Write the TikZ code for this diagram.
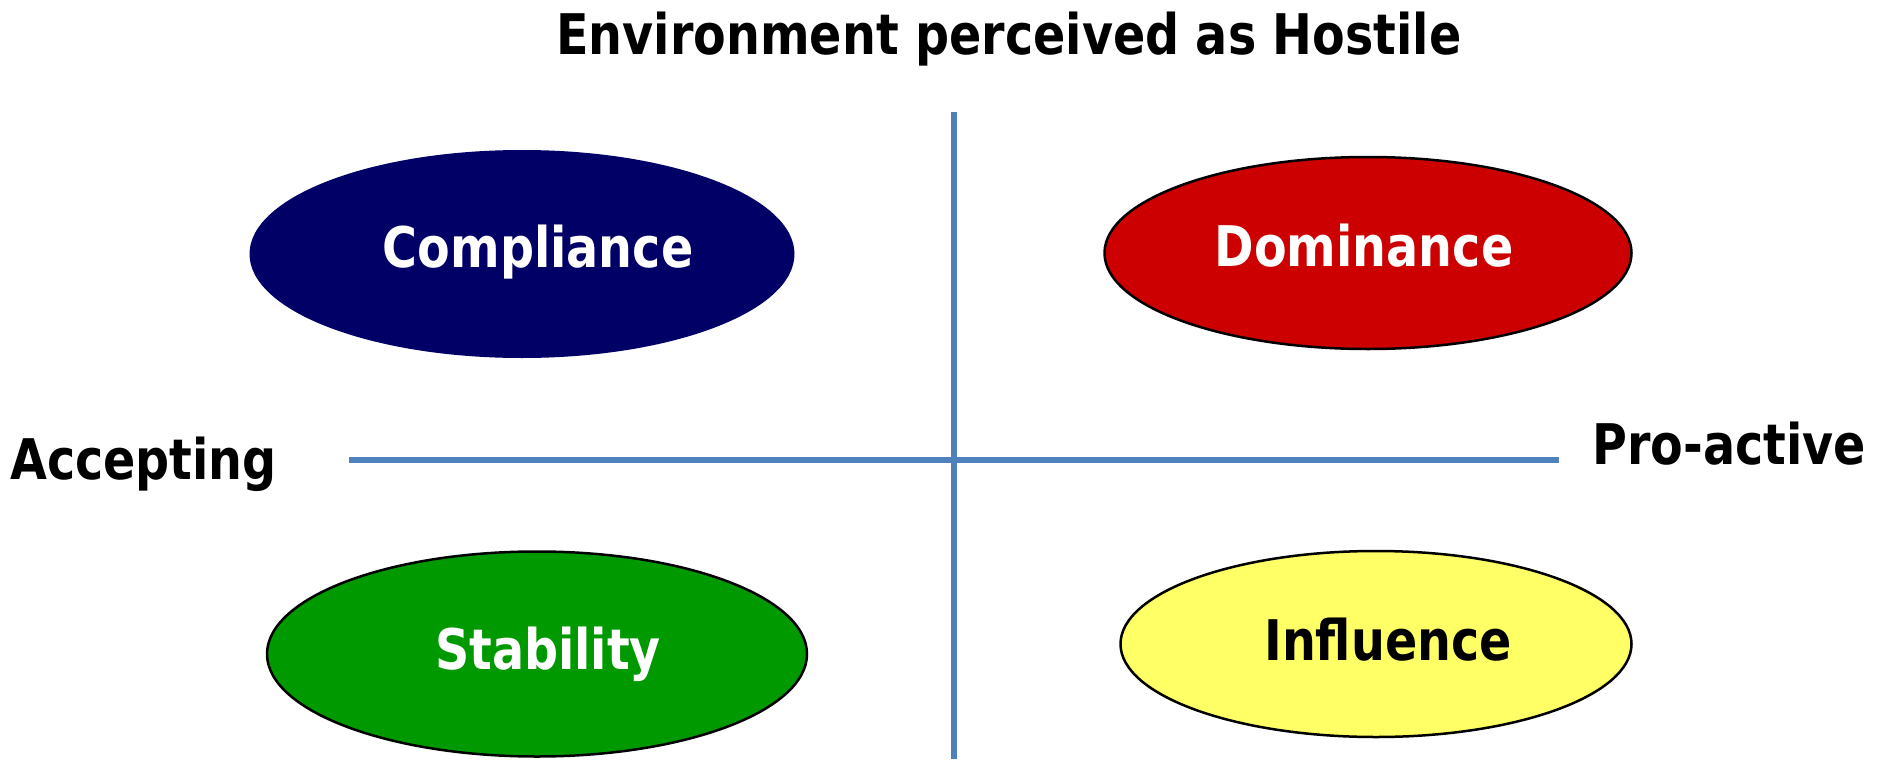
\documentclass[tikz,border=0pt]{standalone}
\usepackage{fontspec}
\usepackage{graphicx}
\setmainfont{DejaVu Sans}
\usetikzlibrary{shapes.geometric}

\definecolor{axisblue}{HTML}{4F81BD}
\definecolor{navy}{HTML}{000066}
\definecolor{darkred}{HTML}{CC0000}
\definecolor{leafgreen}{HTML}{009900}
\definecolor{paleyellow}{HTML}{FFFF66}

\newcommand{\bigword}[1]{\scalebox{0.85}[1]{\fontsize{56}{56}\selectfont\bfseries #1}}

\begin{document}
\begin{tikzpicture}[x=1pt,y=-1pt,
    blob/.style={ellipse, inner sep=0pt, line width=2.5pt},
    word/.style={anchor=base, inner sep=0pt},
    axis/.style={axisblue, line width=6pt}]
    \useasboundingbox (0,0) rectangle (1888,760);

    \coordinate (top) at (954,112);
    \coordinate (bottom) at (954,759);
    \coordinate (left) at (349,460);
    \coordinate (right) at (1559,460);
    \draw [axis] (top) -- (bottom);
    \draw [axis] (left) -- (right);

    \node [blob, fill=navy, minimum width=545, minimum height=208] (compliance) at (522,254) {};
    \node [blob, draw=black, fill=darkred, minimum width=527, minimum height=192] (dominance) at (1368,253) {};
    \node [blob, draw=black, fill=leafgreen, minimum width=540, minimum height=205] (stability) at (537,654) {};
    \node [blob, draw=black, fill=paleyellow, minimum width=511, minimum height=186] (influence) at (1376,644) {};

    \node [word, white] (complianceText) at (538,267) {\bigword{Compliance}};
    \node [word, white] (dominanceText) at (1364,266) {\bigword{Dominance}};
    \node [word, white] (stabilityText) at (548,669) {\bigword{Stability}};
    \node [word] (influenceText) at (1388,660) {\bigword{Influence}};

    \node [word] (title) at (1009,55) {\bigword{Environment perceived as Hostile}};
    \node [word] (accepting) at (143.5,479) {\bigword{Accepting}};
    \node [word] (proactive) at (1729,464) {\bigword{Pro-active}};
\end{tikzpicture}
\end{document}
